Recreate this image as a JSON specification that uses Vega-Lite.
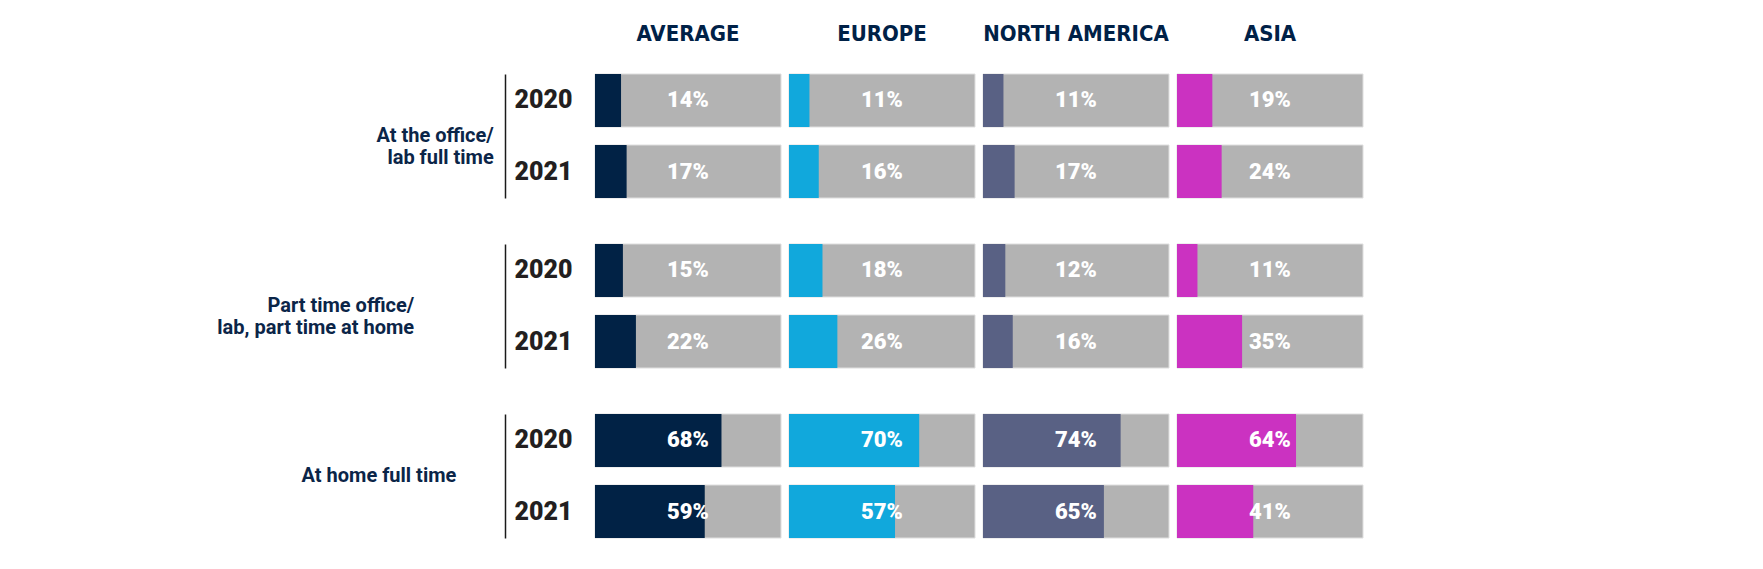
{
  "$schema": "https://vega.github.io/schema/vega-lite/v6.json",
  "background": "white",
  "padding": {"left": 217, "top": 23, "right": 5, "bottom": 5},
  "data": {
    "values": [
      {"category": "At the office/ lab full time", "region": "Average", "year": "2020", "value": 0.14},
      {"category": "At the office/ lab full time", "region": "Average", "year": "2021", "value": 0.17},
      {"category": "At the office/ lab full time", "region": "Europe", "year": "2020", "value": 0.11},
      {"category": "At the office/ lab full time", "region": "Europe", "year": "2021", "value": 0.16},
      {"category": "At the office/ lab full time", "region": "North America", "year": "2020", "value": 0.11},
      {"category": "At the office/ lab full time", "region": "North America", "year": "2021", "value": 0.17},
      {"category": "At the office/ lab full time", "region": "Asia", "year": "2020", "value": 0.19},
      {"category": "At the office/ lab full time", "region": "Asia", "year": "2021", "value": 0.24},
      {"category": "Part time office/ lab, part time at home", "region": "Average", "year": "2020", "value": 0.15},
      {"category": "Part time office/ lab, part time at home", "region": "Average", "year": "2021", "value": 0.22},
      {"category": "Part time office/ lab, part time at home", "region": "Europe", "year": "2020", "value": 0.18},
      {"category": "Part time office/ lab, part time at home", "region": "Europe", "year": "2021", "value": 0.26},
      {"category": "Part time office/ lab, part time at home", "region": "North America", "year": "2020", "value": 0.12},
      {"category": "Part time office/ lab, part time at home", "region": "North America", "year": "2021", "value": 0.16},
      {"category": "Part time office/ lab, part time at home", "region": "Asia", "year": "2020", "value": 0.11},
      {"category": "Part time office/ lab, part time at home", "region": "Asia", "year": "2021", "value": 0.35},
      {"category": "At home full time", "region": "Average", "year": "2020", "value": 0.68},
      {"category": "At home full time", "region": "Average", "year": "2021", "value": 0.59},
      {"category": "At home full time", "region": "Europe", "year": "2020", "value": 0.70},
      {"category": "At home full time", "region": "Europe", "year": "2021", "value": 0.57},
      {"category": "At home full time", "region": "North America", "year": "2020", "value": 0.74},
      {"category": "At home full time", "region": "North America", "year": "2021", "value": 0.65},
      {"category": "At home full time", "region": "Asia", "year": "2020", "value": 0.64},
      {"category": "At home full time", "region": "Asia", "year": "2021", "value": 0.41}
    ]
  },
  "spacing": {"row": 44, "column": 6},
  "facet": {
    "row": {
      "field": "category",
      "type": "nominal",
      "sort": ["At the office/ lab full time", "Part time office/ lab, part time at home", "At home full time"],
      "header": {
        "title": null,
        "labelOrient": "left",
        "labelAngle": 0,
        "labelAlign": "right",
        "labelBaseline": "middle",
        "labelFont": "Roboto",
        "labelFontWeight": "bold",
        "labelFontSize": 20,
        "labelColor": "#0b2548",
        "labelLineHeight": 22,
        "labelPadding": -106,
        "labelExpr": "datum.value == 'At the office/ lab full time' ? ['At the office/', 'lab full time'] : datum.value == 'Part time office/ lab, part time at home' ? ['Part time office/', 'lab, part time at home'] : datum.value"
      }
    },
    "column": {
      "field": "region",
      "type": "nominal",
      "sort": ["Average", "Europe", "North America", "Asia"],
      "header": {
        "title": null,
        "labelOrient": "top",
        "labelFont": "DejaVu Sans Condensed, sans-serif",
        "labelFontWeight": "bold",
        "labelFontSize": 22,
        "labelColor": "#002147",
        "labelPadding": 27,
        "labelExpr": "upper(datum.label)"
      }
    }
  },
  "spec": {
    "width": 186,
    "height": 124,
    "encoding": {
      "y": {
        "field": "year",
        "type": "ordinal",
        "scale": {"paddingInner": 0.254, "paddingOuter": 0},
        "axis": {
          "title": null,
          "orient": "left",
          "offset": 89,
          "ticks": false,
          "domain": true,
          "domainColor": "#1a1a1a",
          "domainWidth": 1.5,
          "labelPadding": -38,
          "labelAlign": "center",
          "labelBaseline": "middle",
          "labelFont": "Roboto",
          "labelFontWeight": 900,
          "labelFontSize": 25,
          "labelColor": "#231f20"
        }
      }
    },
    "layer": [
      {
        "mark": {"type": "bar", "color": "#b3b3b3", "stroke": "#dedede", "strokeWidth": 1},
        "encoding": {
          "x": {"datum": 1, "type": "quantitative", "scale": {"domain": [0, 1]}, "axis": null}
        }
      },
      {
        "mark": {"type": "bar"},
        "encoding": {
          "x": {"field": "value", "type": "quantitative"},
          "color": {
            "field": "region",
            "type": "nominal",
            "scale": {"domain": ["Average", "Europe", "North America", "Asia"], "range": ["#012245", "#11a8dc", "#596184", "#cb32c1"]},
            "legend": null
          }
        }
      },
      {
        "mark": {"type": "text", "color": "white", "font": "Roboto", "fontWeight": 900, "fontSize": 22, "baseline": "middle", "align": "center"},
        "encoding": {
          "x": {"datum": 0.5, "type": "quantitative"},
          "text": {"field": "value", "type": "quantitative", "format": ".0%"}
        }
      }
    ]
  },
  "config": {"view": {"stroke": null}}
}
